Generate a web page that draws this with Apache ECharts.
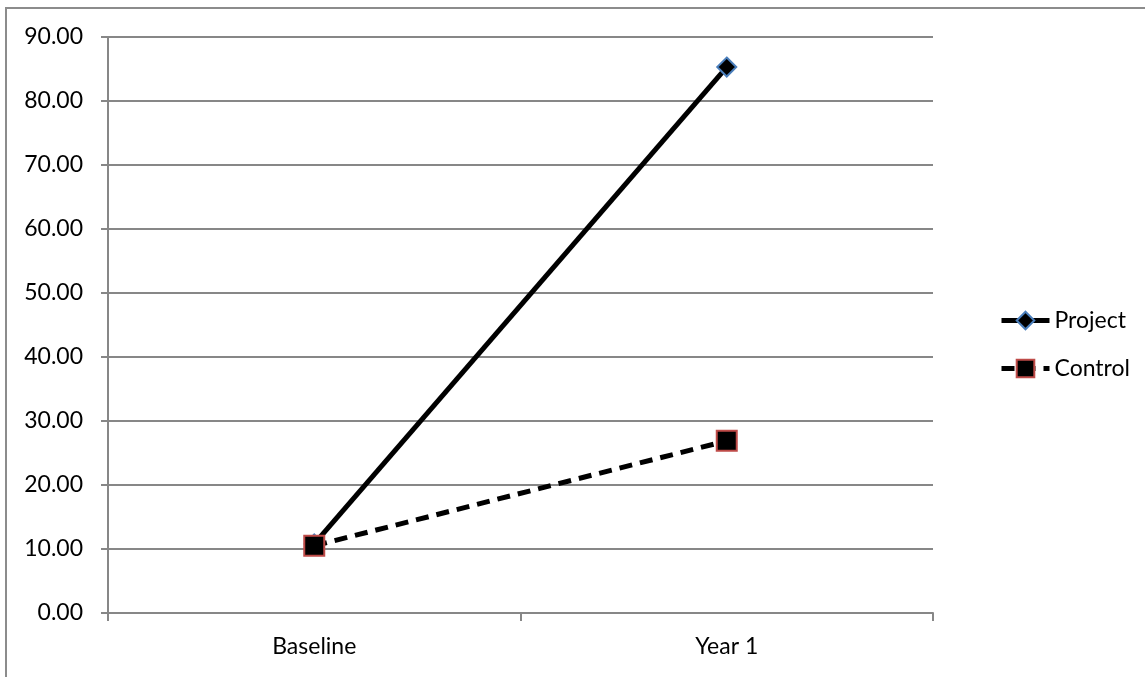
<!DOCTYPE html>
<html><head><meta charset="utf-8">
<script src="https://cdn.jsdelivr.net/npm/echarts@6/dist/echarts.min.js"></script>
<style>html,body{margin:0;padding:0;background:#fff}#c{width:1145px;height:677px}</style>
</head><body><div id="c"></div>
<script>
var categories = ['Baseline', 'Year 1'];
var projectValues = [10.8, 85.3];
var controlValues = [10.5, 26.9];
var yTicks = [0, 10, 20, 30, 40, 50, 60, 70, 80, 90];

var chart = echarts.init(document.getElementById('c'), null, {renderer: 'canvas'});
var font = 'Lato, "Open Sans", sans-serif';
chart.setOption({
  animation: false,
  graphic: [{type: 'rect', shape: {x: 6, y: 8, width: 1160, height: 700}, style: {fill: 'none', stroke: '#8c8c8c', lineWidth: 2}}],
  grid: {left: 108, right: 212, top: 37, bottom: 64, containLabel: false},
  legend: {
    orient: 'vertical', left: 994, top: 304, itemGap: 25, itemWidth: 48, itemHeight: 22,
    textStyle: {fontFamily: font, fontSize: 23, color: '#000'},
    lineStyle: {width: 5},
    data: ['Project', 'Control']
  },
  xAxis: {
    type: 'category', data: categories, boundaryGap: true,
    axisLine: {lineStyle: {color: '#878787', width: 2}},
    axisTick: {show: true, length: 8, alignWithLabel: false, lineStyle: {color: '#878787', width: 2}},
    axisLabel: {fontFamily: font, fontSize: 23, color: '#000', margin: 22}
  },
  yAxis: {
    type: 'value', min: yTicks[0], max: yTicks[yTicks.length - 1], interval: 10,
    axisLine: {show: true, lineStyle: {color: '#878787', width: 2}},
    axisTick: {show: true, length: 7, lineStyle: {color: '#878787', width: 2}},
    splitLine: {show: true, lineStyle: {color: '#878787', width: 2}},
    axisLabel: {fontFamily: font, fontSize: 23, color: '#000', margin: 25,
      formatter: function (v) { return v.toFixed(2); }}
  },
  series: [
    {name: 'Project', type: 'line', data: projectValues, symbol: 'diamond', symbolSize: 19,
      lineStyle: {color: '#000', width: 5, type: 'solid'},
      itemStyle: {color: '#000', borderColor: '#4a7ebb', borderWidth: 2}, z: 2},
    {name: 'Control', type: 'line', data: controlValues, symbol: 'rect', symbolSize: 20,
      lineStyle: {color: '#000', width: 5, type: [13, 8]},
      itemStyle: {color: '#000', borderColor: '#be4b48', borderWidth: 2}, z: 3}
  ]
});
</script></body></html>
